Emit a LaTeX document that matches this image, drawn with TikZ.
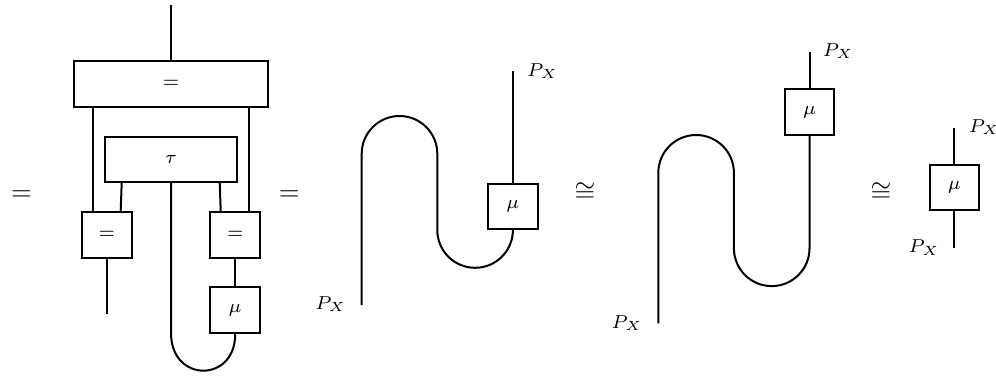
\documentclass[tikz,border=0pt]{standalone}
\usetikzlibrary{calc}
\tikzset{
  wire/.style={line width=0.75pt},
  box/.style={draw, line width=0.75pt, inner sep=0pt, minimum width=18.6pt, minimum height=17.2pt, font=\scriptsize},
  lbl/.style={inner sep=0pt, font=\scriptsize},
  rel/.style={inner sep=0pt, anchor=base},
}
\begin{document}
\begin{tikzpicture}[x=0.375pt,y=0.375pt]
\useasboundingbox (0,0) rectangle (996,-375);

% relation symbols
\node[rel] (e1) at (21.5,-200) {$=$};
\node[rel] (e2) at (289.3,-200) {$=$};
\node[rel] (c1) at (585,-200) {$\cong$};
\node[rel] (c2) at (881,-200) {$\cong$};

% ---------- left diagram ----------
\node[box, minimum width=72.5pt, minimum height=17.1pt] (big) at (171,-83.8) {$=$};
\node[box, minimum width=49.7pt, minimum height=17pt] (tau) at (171,-159.3) {$\tau$};
\node[box] (lb) at (106.7,-234.7) {$=$};
\node[box] (rb) at (235.2,-234.7) {$=$};
\node[box] (mu1) at (235.2,-310.3) {$\mu$};
\coordinate (top) at (171,-5);
\coordinate (lend) at (106.7,-314);
\coordinate (xa) at (92.7,0);
\coordinate (xb) at (249.3,0);
\coordinate (xc) at (121.7,0);
\coordinate (xd) at (120.7,0);
\coordinate (xe) at (219.7,0);
\coordinate (xf) at (220.7,0);
\coordinate (ubend) at (171,-333);
\draw[wire] (top) -- (big.north);
\draw[wire] (big.south -| xa) -- (lb.north -| xa);
\draw[wire] (big.south -| xb) -- (rb.north -| xb);
\draw[wire] (tau.south -| xc) -- (lb.north -| xd);
\draw[wire] (tau.south -| xe) -- (rb.north -| xf);
\draw[wire] (lb.south) -- (lend);
\draw[wire] (rb.south) -- (mu1.north);
\draw[wire] (tau.south) -- (ubend) .. controls (171,-383) and (235.2,-383) .. (mu1.south);

% ---------- middle diagram ----------
\node[box, minimum height=17pt] (mu2) at (512.9,-206.7) {$\mu$};
\coordinate (m0) at (361.7,-305);
\coordinate (m1) at (512.9,-71);
\draw[wire] (m0) -- (361.7,-153.8) arc[start angle=180,end angle=0,radius=14.175pt]
  -- (437.3,-230) arc[start angle=180,end angle=360,radius=14.175pt] -- (mu2.south);
\draw[wire] (mu2.north) -- (m1);
\node[lbl, anchor=base west] (pm1) at (526.7,-76) {$P_X$};
\node[lbl, anchor=base east] (pm0) at (346.7,-309) {$P_X$};

% ---------- right diagram ----------
\node[box] (mu3) at (809.5,-112.2) {$\mu$};
\coordinate (r0) at (658.3,-323.3);
\coordinate (r1) at (809.5,-52.3);
\draw[wire] (r0) -- (658.3,-172.8) arc[start angle=180,end angle=0,radius=14.175pt]
  -- (733.9,-248.3) arc[start angle=180,end angle=360,radius=14.175pt] -- (mu3.south);
\draw[wire] (mu3.north) -- (r1);
\node[lbl, anchor=base west] (pr1) at (822.3,-56) {$P_X$};
\node[lbl, anchor=base east] (pr0) at (643,-328) {$P_X$};

% ---------- rightmost ----------
\node[box, minimum height=16.8pt] (mu4) at (954.3,-187.7) {$\mu$};
\coordinate (s1) at (954.3,-127.7);
\coordinate (s0) at (954.3,-247.7);
\draw[wire] (mu4.north) -- (s1);
\draw[wire] (mu4.south) -- (s0);
\node[lbl, anchor=base west] (ps1) at (968.3,-132) {$P_X$};
\node[lbl, anchor=base east] (ps0) at (940,-252.5) {$P_X$};
\end{tikzpicture}
\end{document}
